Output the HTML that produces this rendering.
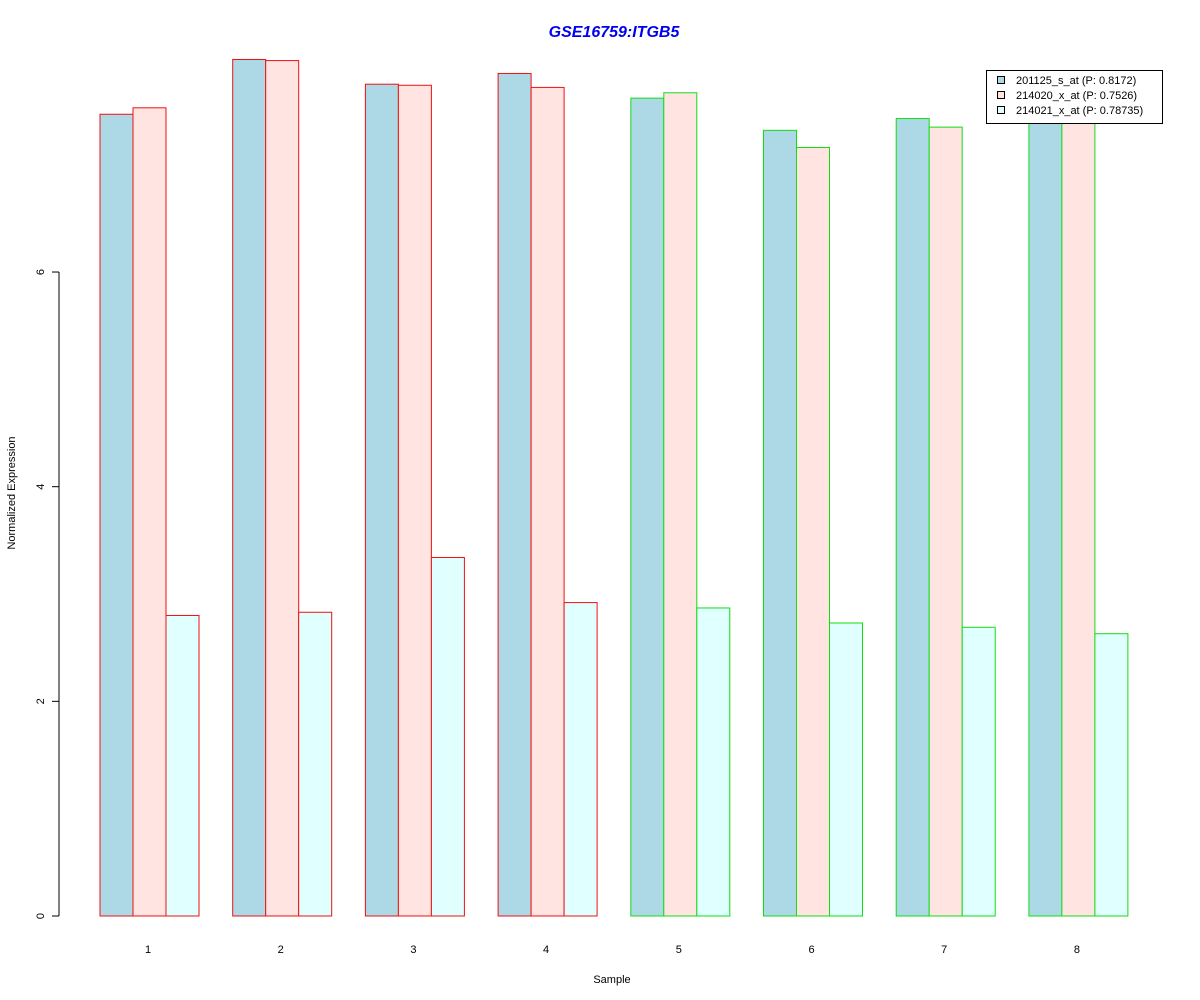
<!DOCTYPE html>
<html><head><meta charset="utf-8"><style>
html,body{margin:0;padding:0;background:#fff}
svg{display:block;font-family:"Liberation Sans",Arial,sans-serif}
</style></head><body>
<svg id="chart" width="1200" height="1000">
<text x="614" y="37" text-anchor="middle" font-size="16" font-weight="bold" font-style="italic" fill="#0000ee">GSE16759:ITGB5</text>
<text x="612" y="983" text-anchor="middle" font-size="11">Sample</text>
<text transform="translate(15,493) rotate(-90)" text-anchor="middle" font-size="11">Normalized Expression</text>
<g id="bars"></g>
<g id="axes"></g>
</svg>
<script>
const categories=["1","2","3","4","5","6","7","8"];
const series1=[7.47,7.98,7.75,7.85,7.62,7.32,7.43,7.45];
const series2=[7.53,7.97,7.74,7.72,7.67,7.16,7.35,7.40];
const series3=[2.80,2.83,3.34,2.92,2.87,2.73,2.69,2.63];
const groupBorder=["red","red","red","red","green","green","green","green"];
const yTicks=[0,2,4,6];
const seriesNames=["201125_s_at (P: 0.8172)","214020_x_at (P: 0.7526)","214021_x_at (P: 0.78735)"];
const seriesFill=["#add8e6","#ffe4e1","#e0ffff"];
const borderColor={red:"#ee1111",green:"#11dd11"};
const NS="http://www.w3.org/2000/svg";
function y(v){return 916-v*107.33;}
function x(g,s){return 100+g*132.7+s*33;}
const bars=document.getElementById('bars');
const all=[series1,series2,series3];
categories.forEach((c,g)=>{
  all.forEach((ser,s)=>{
    const r=document.createElementNS(NS,'rect');
    r.setAttribute('x',x(g,s));r.setAttribute('y',y(ser[g]));
    r.setAttribute('width',33);r.setAttribute('height',916-y(ser[g]));
    r.setAttribute('fill',seriesFill[s]);r.setAttribute('stroke',borderColor[groupBorder[g]]);
    
    
    bars.appendChild(r);
  });
  const t=document.createElementNS(NS,'text');
  t.setAttribute('x',x(g,1)+15);t.setAttribute('y',953);t.setAttribute('text-anchor','middle');t.setAttribute('font-size','11');
  t.textContent=c;
  
  
  bars.appendChild(t);
});
const axes=document.getElementById('axes');
const al=document.createElementNS(NS,'line');
al.setAttribute('x1',59);al.setAttribute('x2',59);al.setAttribute('y1',y(0));al.setAttribute('y2',y(6));al.setAttribute('stroke','#000');


axes.appendChild(al);
yTicks.forEach(v=>{
  const l=document.createElementNS(NS,'line');
  l.setAttribute('x1',52);l.setAttribute('x2',59);l.setAttribute('y1',y(v));l.setAttribute('y2',y(v));l.setAttribute('stroke','#000');
  
  
  axes.appendChild(l);
  const t=document.createElementNS(NS,'text');
  t.setAttribute('transform','translate(44,'+y(v)+') rotate(-90)');t.setAttribute('text-anchor','middle');t.setAttribute('font-size','11');
  t.textContent=v;
  
  
  axes.appendChild(t);
});
const lg=document.createElementNS(NS,'g');


const box=document.createElementNS(NS,'rect');
box.setAttribute('x',986.5);box.setAttribute('y',70.5);box.setAttribute('width',176);box.setAttribute('height',53);box.setAttribute('fill','#fff');box.setAttribute('stroke','#000');


lg.appendChild(box);
seriesNames.forEach((n,i)=>{
  const sq=document.createElementNS(NS,'rect');
  sq.setAttribute('x',997.5);sq.setAttribute('y',76.5+i*15);sq.setAttribute('width',7);sq.setAttribute('height',7);sq.setAttribute('fill',seriesFill[i]);sq.setAttribute('stroke','#000');
  
  
  lg.appendChild(sq);
  const t=document.createElementNS(NS,'text');
  t.setAttribute('x',1016);t.setAttribute('y',84+i*15);t.setAttribute('font-size','11');
  t.textContent=n;
  
  
  lg.appendChild(t);
});
document.getElementById('chart').appendChild(lg);
</script>
</body></html>
